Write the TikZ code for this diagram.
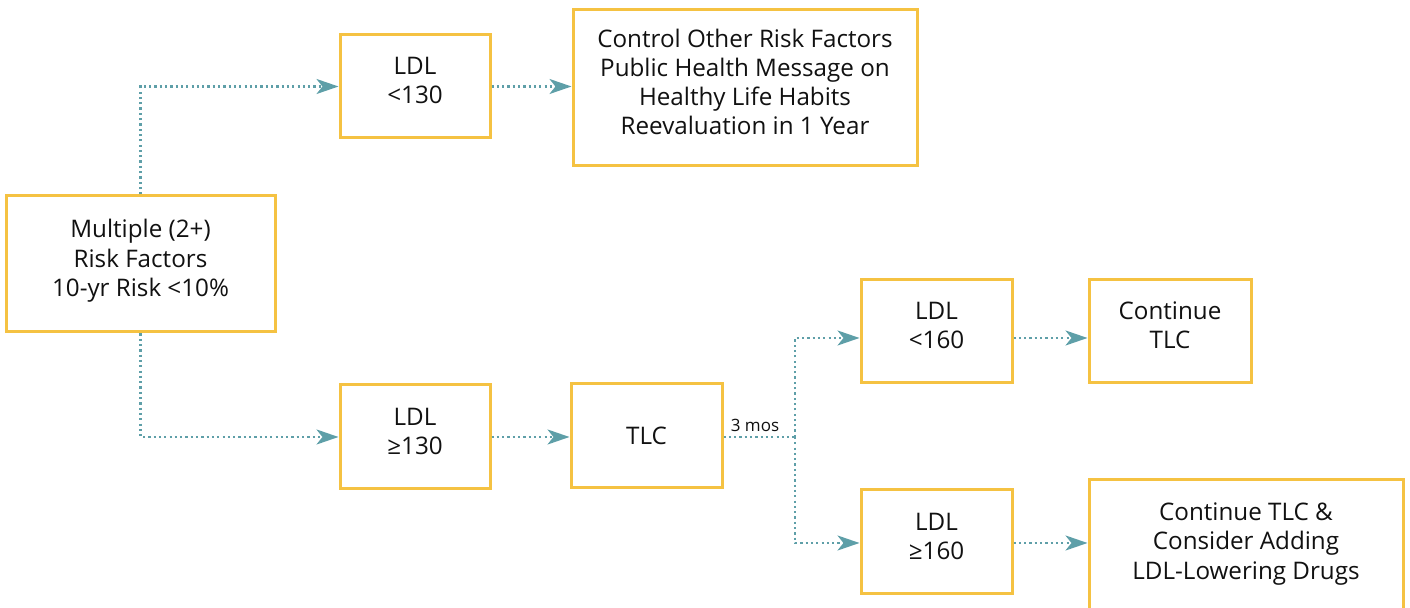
\documentclass[tikz,border=0pt]{standalone}
\usepackage{fontspec}
\setmainfont{Open Sans}
\usetikzlibrary{arrows.meta}
\definecolor{boxc}{HTML}{F5C242}
\definecolor{linec}{HTML}{5E9FA8}
\definecolor{txt}{HTML}{111111}
\newcommand\dn{\rule[-6pt]{0pt}{0pt}}
\begin{document}
\begin{tikzpicture}[x=0.5pt,y=-0.5pt,
  box/.style={draw=boxc, line width=1.5pt, fill=white, align=center,
    font=\fontsize{12.1}{14.6}\selectfont, inner sep=0pt, text=txt},
  conn/.style={draw=linec, line width=1.2pt, dash pattern=on 1.1pt off 1.55pt,
    -{Stealth[length=11pt,width=7.5pt,inset=3pt,fill=linec]}},
  lbl/.style={font=\fontsize{8.5}{9}\selectfont, text=txt, inner sep=0pt}]
\useasboundingbox (0,0) rectangle (1410,608);
\clip (0,0) rectangle (1410,608);
\node[box, minimum width=134.5pt, minimum height=68pt] (A) at (140.5,264) {Multiple (2+)\\Risk Factors\\10-yr Risk <10\%\dn};
\node[box, minimum width=75pt, minimum height=51.5pt] (B) at (415,86.5) {LDL\\<130\dn};
\node[box, minimum width=172pt, minimum height=78pt] (C) at (745,88) {Control Other Risk Factors\\Public Health Message on\\Healthy Life Habits\\Reevaluation in 1 Year\dn};
\node[box, minimum width=75pt, minimum height=52pt] (D) at (415,437) {LDL\\≥130\dn};
\node[box, minimum width=75.5pt, minimum height=52pt] (E) at (646.5,436) {TLC};
\node[box, minimum width=75.5pt, minimum height=51.5pt] (F) at (936.5,331.5) {LDL\\<160\dn};
\node[box, minimum width=81pt, minimum height=51.5pt] (G) at (1170,331.5) {Continue\\TLC\dn};
\node[box, minimum width=75.5pt, minimum height=52pt] (H) at (936.5,542) {LDL\\≥160\dn};
\node[box, minimum width=157pt, minimum height=67pt] (I) at (1246,547) {Continue TLC \&\\Consider Adding\\LDL-Lowering Drugs\dn};
\coordinate (j) at (795,437);
\coordinate (fy) at (0,338);
\coordinate (hy) at (0,543);
\draw[conn] (A.north) |- (B.west);
\draw[conn] (A.south) |- (D.west);
\draw[conn] (B.east) -- (B.east -| C.west);
\draw[conn] (D.east) -- (D.east -| E.west);
\draw[conn, -] (E.east |- j) -- (j);
\draw[conn] (j) |- (F.west |- fy);
\draw[conn] (j) |- (H.west |- hy);
\draw[conn] (F.east |- fy) -- (G.west |- fy);
\draw[conn] (H.east |- hy) -- (I.west |- hy);
\node[lbl] (m) at (755,425) {3 mos};
\end{tikzpicture}
\end{document}
